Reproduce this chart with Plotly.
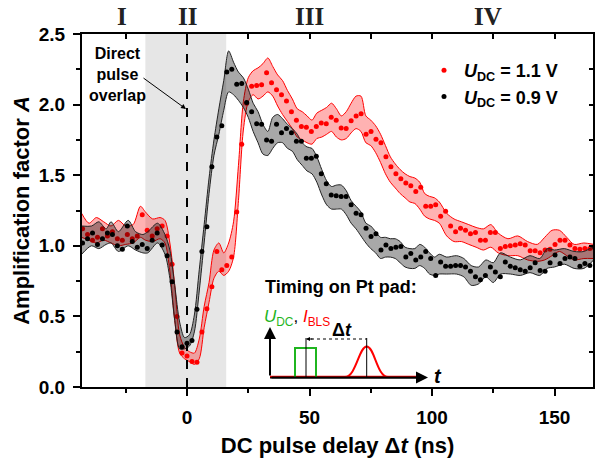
import plotly.graph_objects as go

# ---------------- data ----------------
# delay grid of the measured points (ns)
delay = [round(2.03 * k, 2) for k in range(-21, 83)]

amp_09 = [1.02, 1.05, 1.09, 1.01, 1.05, 1.09, 1.08, 1.00, 0.975, 1.14, 1.03, 0.99, 1.01, 0.98,
          1.04, 1.09, 1.005, 0.93, 0.745, 0.39, 0.285, 0.31, 0.33, 0.55, 0.96, 1.135, 1.56, 1.77,
          1.85, 2.23, 2.25, 2.145, 2.15, 2.015, 1.95, 1.865, 1.86, 1.75, 1.74, 1.86, 1.80, 1.83,
          1.80, 1.74, 1.74, 1.62, 1.62, 1.635, 1.51, 1.44, 1.36, 1.355, 1.35, 1.35, 1.29, 1.23,
          1.22, 1.125, 1.065, 1.085, 0.97, 1.005, 0.98, 0.99, 0.995, 0.92, 0.945, 0.90, 0.92, 0.96,
          0.91, 0.79, 0.885, 0.855, 0.855, 0.86, 0.86, 0.85, 0.82, 0.78, 0.76, 0.79, 0.85, 0.815,
          0.78, 0.885, 0.855, 0.845, 0.83, 0.82, 0.845, 0.88, 0.825, 0.82, 0.88, 0.935, 0.875, 0.91,
          0.92, 0.91, 0.855, 0.875, 0.86, 0.99]

amp_11 = [1.12, 1.08, 1.04, 1.06, 1.12, 1.07, 1.10, 1.05, 1.04, 1.08, 1.05, 1.07, 1.22, 1.11,
          1.07, 1.12, 1.14, 1.07, 0.87, 0.50, 0.24, 0.22, 0.18, 0.175, 0.39, 0.555, 0.71, 0.96,
          0.83, 0.86, 0.92, 1.24, 1.72, 2.01, 2.13, 2.135, 2.14, 2.225, 2.155, 2.105, 2.07, 2.025,
          1.95, 1.89, 1.845, 1.84, 1.81, 1.845, 1.87, 1.865, 1.91, 1.89, 1.835, 1.83, 1.885, 1.92,
          1.935, 1.79, 1.81, 1.755, 1.73, 1.63, 1.56, 1.51, 1.475, 1.445, 1.425, 1.385, 1.415, 1.28,
          1.28, 1.29, 1.21, 1.245, 1.14, 1.10, 1.125, 1.11, 1.085, 1.095, 1.04, 1.04, 1.095, 1.095,
          0.98, 0.995, 1.00, 1.005, 1.015, 1.005, 0.965, 0.965, 0.95, 0.97, 0.975, 1.01, 1.04, 1.04,
          1.005, 0.98, 0.975, 0.98, 0.98, 0.98]

# uncertainty bands (delay, lower, upper)
band09_x = [-43, -39, -36, -33, -31, -28, -24, -21, -18, -16, -12, -9, -7, -5, -3, -1, 1, 3, 5, 7, 9,
            11, 13, 15, 17, 19, 21, 23, 25, 27, 29, 31, 33, 35, 37, 39, 41, 43, 45, 47, 49, 51, 53,
            55, 57, 59, 61, 63, 65, 67, 69, 71, 73, 75, 77, 79, 81, 83, 85, 87, 89, 91, 93, 95, 97,
            99, 101, 103, 106, 110, 113, 116, 119, 122, 125, 128, 132, 136, 140, 144, 147, 150,
            154, 158, 162, 166]
band09_lo = [0.94, 1.00, 0.98, 1.01, 1.02, 0.96, 1.00, 0.97, 0.95, 0.95, 1.02, 0.94, 0.77, 0.47,
             0.27, 0.27, 0.29, 0.39, 0.68, 1.02, 1.37, 1.64, 1.79, 1.96, 2.09, 2.07, 2.03, 1.98,
             1.91, 1.81, 1.73, 1.65, 1.64, 1.69, 1.73, 1.73, 1.69, 1.67, 1.61, 1.57, 1.53, 1.51,
             1.45, 1.36, 1.29, 1.26, 1.26, 1.26, 1.22, 1.16, 1.12, 1.07, 1.02, 0.98, 0.95, 0.91,
             0.92, 0.92, 0.91, 0.88, 0.85, 0.84, 0.84, 0.86, 0.84, 0.80, 0.79, 0.80, 0.80, 0.80,
             0.78, 0.72, 0.73, 0.78, 0.74, 0.80, 0.80, 0.79, 0.81, 0.79, 0.84, 0.85, 0.87, 0.84,
             0.84, 0.90]
band09_hi = [1.14, 1.14, 1.17, 1.12, 1.17, 1.10, 1.18, 1.10, 1.08, 1.10, 1.16, 1.08, 0.97, 0.72,
             0.46, 0.35, 0.37, 0.51, 0.83, 1.15, 1.48, 1.75, 1.97, 2.17, 2.38, 2.30, 2.23, 2.19,
             2.11, 2.01, 1.95, 1.86, 1.81, 1.91, 1.93, 1.90, 1.86, 1.83, 1.79, 1.73, 1.70, 1.69,
             1.63, 1.54, 1.46, 1.42, 1.43, 1.43, 1.39, 1.32, 1.28, 1.24, 1.16, 1.14, 1.10, 1.06,
             1.06, 1.05, 1.05, 1.03, 0.99, 0.98, 0.98, 1.01, 0.99, 0.95, 0.92, 0.94, 0.92, 0.93,
             0.91, 0.86, 0.85, 0.90, 0.88, 0.95, 0.92, 0.90, 0.93, 0.91, 0.98, 0.97, 0.98, 0.96,
             0.96, 1.00]

band11_x = [-43, -40, -37, -34, -31, -28, -25, -22, -19, -17, -14, -11, -9, -7, -5, -3, -1, 1, 3, 5,
            7, 9, 11, 13, 15, 17, 19, 21, 23, 25, 27, 29, 31, 33, 35, 37, 39, 41, 43, 45, 47, 49,
            51, 53, 55, 57, 59, 61, 63, 65, 67, 69, 71, 73, 75, 77, 79, 81, 83, 85, 87, 89, 91, 93,
            95, 97, 99, 101, 103, 106, 109, 112, 115, 118, 121, 124, 127, 131, 135, 139, 143, 146,
            149, 152, 155, 158, 162, 166]
band11_lo = [1.06, 1.04, 1.02, 1.04, 1.02, 1.00, 1.01, 1.02, 1.06, 1.04, 1.03, 1.05, 1.02, 0.82,
             0.47, 0.24, 0.20, 0.18, 0.16, 0.20, 0.42, 0.60, 0.77, 0.82, 0.79, 0.82, 0.92, 1.32,
             1.82, 2.02, 2.07, 2.04, 2.06, 2.09, 2.06, 1.99, 1.93, 1.88, 1.83, 1.77, 1.75, 1.73,
             1.72, 1.76, 1.77, 1.79, 1.81, 1.77, 1.75, 1.76, 1.80, 1.83, 1.81, 1.73, 1.71, 1.66,
             1.59, 1.51, 1.45, 1.41, 1.37, 1.34, 1.31, 1.30, 1.26, 1.21, 1.19, 1.18, 1.16, 1.07,
             1.03, 1.03, 1.01, 0.99, 0.97, 0.99, 0.95, 0.93, 0.93, 0.90, 0.89, 0.90, 0.93, 0.96,
             0.93, 0.90, 0.91, 0.91]
band11_hi = [1.23, 1.16, 1.20, 1.17, 1.14, 1.18, 1.14, 1.15, 1.28, 1.24, 1.19, 1.20, 1.18, 1.02,
             0.72, 0.37, 0.28, 0.25, 0.24, 0.34, 0.57, 0.74, 0.97, 1.02, 0.95, 1.02, 1.17, 1.57,
             2.02, 2.19, 2.24, 2.26, 2.29, 2.33, 2.27, 2.21, 2.17, 2.10, 2.04, 1.97, 1.95, 1.92,
             1.89, 1.94, 1.96, 1.98, 2.01, 1.97, 1.92, 1.95, 2.01, 2.06, 2.06, 1.92, 1.89, 1.85,
             1.79, 1.71, 1.63, 1.58, 1.54, 1.51, 1.49, 1.48, 1.45, 1.37, 1.35, 1.34, 1.31, 1.23,
             1.19, 1.17, 1.15, 1.13, 1.12, 1.15, 1.09, 1.05, 1.07, 1.03, 1.01, 1.06, 1.11, 1.11,
             1.06, 1.01, 1.02, 1.01]

overlap_region = [-17, 16]
regions = ["I", "II", "III", "IV"]
region_x = [-26.7, 0, 50.2, 122.9]
labels = ["<b><i>U</i><sub>DC</sub> = 1.1 V</b>", "<b><i>U</i><sub>DC</sub> = 0.9 V</b>"]

# ---------------- layout helpers ----------------
W, H = 595, 462
L, R, T, B = 82, 2, 34, 75
PW, PH = W - L - R, H - T - B


def px(x):
    return (x - L) / PW


def py(y):
    return (H - B - y) / PH


FONT = "Liberation Sans, Arial, sans-serif"
RED = "#ff0000"
GREEN = "#1fb51f"

fig = go.Figure()

# red band
fig.add_trace(go.Scatter(x=band11_x, y=band11_lo, mode="lines", line=dict(color=RED, width=1, shape="spline", smoothing=0.8),
                         showlegend=False, hoverinfo="skip"))
fig.add_trace(go.Scatter(x=band11_x, y=band11_hi, mode="lines", line=dict(color=RED, width=1, shape="spline", smoothing=0.8),
                         fill="tonexty", fillcolor="rgba(255,0,0,0.30)", showlegend=False, hoverinfo="skip"))
fig.add_trace(go.Scatter(x=delay, y=amp_11, mode="markers", marker=dict(color=RED, size=5), name=labels[0],
                         legendgroup="a"))
# black band
fig.add_trace(go.Scatter(x=band09_x, y=band09_lo, mode="lines", line=dict(color="#222222", width=1, shape="spline", smoothing=0.8),
                         showlegend=False, hoverinfo="skip"))
fig.add_trace(go.Scatter(x=band09_x, y=band09_hi, mode="lines", line=dict(color="#222222", width=1, shape="spline", smoothing=0.8),
                         fill="tonexty", fillcolor="rgba(0,0,0,0.34)", showlegend=False, hoverinfo="skip"))
fig.add_trace(go.Scatter(x=delay, y=amp_09, mode="markers", marker=dict(color="black", size=5), name=labels[1],
                         legendgroup="b"))
# helper trace for the mirrored top/right axes
fig.add_trace(go.Scatter(x=[None], y=[None], xaxis="x2", yaxis="y2", showlegend=False, hoverinfo="skip"))

xr = [(L - 187) / 2.45, (W - R - 187) / 2.45]

fig.update_layout(
    width=W, height=H, margin=dict(l=L, r=R, t=T, b=B, autoexpand=False),
    paper_bgcolor="white", plot_bgcolor="white",
    font=dict(family=FONT, color="black", size=18),
    xaxis=dict(range=xr, dtick=50, tick0=0, ticks="outside", ticklen=7, tickwidth=2, tickcolor="black",
               minor=dict(dtick=25, ticks="outside", ticklen=4, tickwidth=2, tickcolor="black"),
               showline=True, linewidth=2, linecolor="black", mirror=True, showgrid=False, zeroline=False,
               tickfont=dict(size=19, family=FONT), ticklabelstandoff=5, automargin=False,
               tickprefix="<b>", ticksuffix="</b>",
               title=dict(text="<b>DC pulse delay Δ<i>t</i> (ns)</b>", font=dict(size=22), standoff=11)),
    yaxis=dict(range=[0, 2.5], dtick=0.5, tick0=0, tickformat=".1f", ticks="outside", ticklen=7, tickwidth=2,
               tickcolor="black", automargin=False,
               minor=dict(dtick=0.25, ticks="outside", ticklen=4, tickwidth=2, tickcolor="black"),
               showline=True, linewidth=2, linecolor="black", mirror=True, showgrid=False, zeroline=False,
               tickfont=dict(size=19, family=FONT), ticklabelstandoff=4,
               tickprefix="<b>", ticksuffix="</b>",
               title=dict(text="<b>Amplification factor <i>A</i></b>", font=dict(size=22), standoff=3)),
    xaxis2=dict(range=xr, overlaying="x", side="top", dtick=25, tick0=0, ticks="inside", ticklen=5, tickwidth=2,
                tickcolor="black", showticklabels=False, showgrid=False, zeroline=False, showline=False,
                automargin=False),
    yaxis2=dict(range=[0, 2.5], overlaying="y", side="right", dtick=0.25, tick0=0, ticks="inside", ticklen=4,
                tickwidth=2, tickcolor="black", showticklabels=False, showgrid=False, zeroline=False,
                showline=False, automargin=False),
    legend=dict(x=px(424), y=py(52), xanchor="left", yanchor="top", bgcolor="rgba(0,0,0,0)",
                font=dict(size=18, family=FONT), tracegroupgap=5, itemwidth=30, traceorder="normal"),
    showlegend=True,
)

shapes = []
# shaded overlap region
shapes.append(dict(type="rect", xref="x", yref="paper", x0=overlap_region[0], x1=overlap_region[1], y0=0, y1=1,
                   fillcolor="#e6e6e6", line=dict(width=0), layer="below"))
# dashed zero-delay line
shapes.append(dict(type="line", xref="x", yref="paper", x0=0, x1=0, y0=0, y1=1,
                   line=dict(color="black", width=2, dash="dash"), layer="above"))


# inset schematic (paper coordinates)
def seg(x0, y0, x1, y1, color="black", width=2, dash=None):
    d = dict(type="line", xref="paper", yref="paper", x0=px(x0), y0=py(y0), x1=px(x1), y1=py(y1),
             line=dict(color=color, width=width))
    if dash:
        d["line"]["dash"] = dash
    return d


def P(a, b):
    return f"{px(a):.5f},{py(b):.5f}"


def path(s, color, width=2):
    return dict(type="path", xref="paper", yref="paper", path=s, line=dict(color=color, width=width))


shapes.append(seg(270, 377.5, 420, 377.5, "black", 2))
shapes.append(seg(270, 376.5, 420, 376.5, RED, 1.5))
shapes.append(path(f"M{P(295, 377)} L{P(295, 348)} L{P(316, 348)} L{P(316, 377)}", GREEN, 2))
shapes.append(seg(306, 338, 306, 377, "black", 1))
shapes.append(path(f"M{P(345, 377)} C{P(356, 377)} {P(359, 346.5)} {P(366.7, 346.5)} "
                   f"C{P(374.5, 346.5)} {P(377, 377)} {P(388, 377)}", RED, 2))
shapes.append(seg(366.7, 338, 366.7, 377, "black", 1))
shapes.append(seg(311, 339, 366.7, 339, "black", 1, "dot"))
fig.update_layout(shapes=shapes)


def txt(x, y, text, size, xanchor="center", xref="paper", family=None, color="black"):
    f = dict(size=size, color=color)
    if family:
        f["family"] = family
    return dict(x=x, y=y, xref=xref, yref="paper", text=text, showarrow=False, xanchor=xanchor,
                yanchor="middle", font=f)


ann = []
for r, xv in zip(regions, region_x):
    ann.append(txt(xv, py(17), f"<b>{r}</b>", 25, xref="x",
                   family="Liberation Serif, Times New Roman, serif", color="#222"))
ann.append(txt(px(117), py(74), "<b>Direct<br>pulse<br>overlap</b>", 16))
ann.append(dict(x=px(186), y=py(109), xref="paper", yref="paper", text="", showarrow=True, ax=-44, ay=-32,
                arrowhead=2, arrowsize=1, arrowwidth=1, arrowcolor="black"))
ann.append(txt(px(263), py(287), "<b>Timing on Pt pad:</b>", 18, xanchor="left"))
ann.append(txt(px(262), py(318),
               f"<span style='color:{GREEN}'><i>U</i><sub>DC</sub></span>, <span style='color:{RED}'><i>I</i><sub>BLS</sub></span>",
               17, xanchor="left"))
ann.append(dict(x=px(270), y=py(327), xref="paper", yref="paper", text="", showarrow=True, ax=0, ay=50,
                arrowhead=2, arrowsize=1.2, arrowwidth=2, arrowcolor="black"))
ann.append(dict(x=px(428), y=py(377.5), xref="paper", yref="paper", text="", showarrow=True, ax=-158, ay=0,
                arrowhead=2, arrowsize=1.2, arrowwidth=2, arrowcolor="black"))
ann.append(dict(x=px(306), y=py(339), xref="paper", yref="paper", text="", showarrow=True, ax=8, ay=0,
                arrowhead=2, arrowsize=0.8, arrowwidth=1, arrowcolor="black"))
ann.append(txt(px(342), py(330), "<b>Δ<i>t</i></b>", 18))
ann.append(txt(px(438), py(376), "<b><i>t</i></b>", 20))
fig.update_layout(annotations=ann)

fig.write_html("out.html", config={"displayModeBar": False},
               post_script="document.body.style.margin='0px';document.body.style.padding='0px';")
